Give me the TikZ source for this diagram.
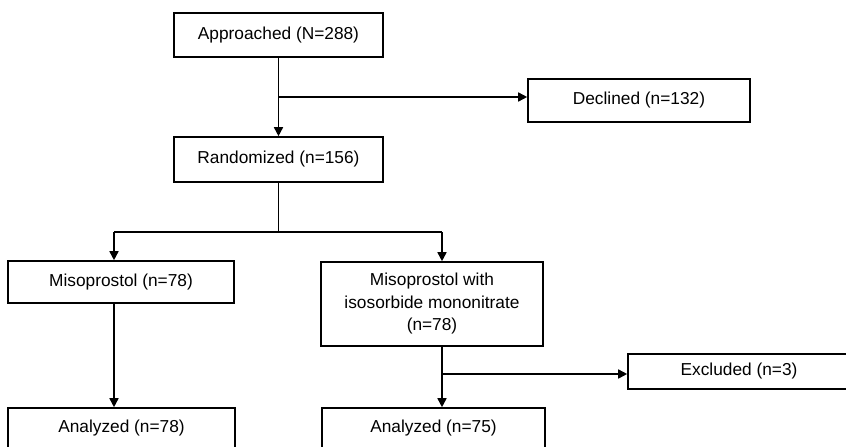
\documentclass[tikz,border=0pt]{standalone}
\usepackage{fontspec}
\setmainfont{Liberation Sans}
\usetikzlibrary{arrows.meta}

\begin{document}
\begin{tikzpicture}[x=1pt, y=-1pt, line width=1.6pt,
  box/.style={draw, line width=1.6pt, minimum width=#1, inner sep=0pt,
    align=center, font=\fontsize{17.3}{22.5}\selectfont},
  flow/.style={-{Triangle[length=9pt, width=9pt]}}]
\useasboundingbox (0,0) rectangle (846,447);
% enrolment
\node[box=209pt, minimum height=44pt] (appr) at (278.5,35) {Approached (N=288)};
\node[box=222pt, minimum height=43pt] (decl) at (639,100.5) {Declined (n=132)};
\node[box=209pt, minimum height=45pt] (rand) at (278.5,159.5) {Randomized (n=156)};
% allocation
\node[box=226pt, minimum height=42pt] (miso) at (121,282) {Misoprostol (n=78)};
\node[box=222pt, minimum height=84pt] (misoismn) at (432,304)
  {Misoprostol with\\ isosorbide mononitrate\\ (n=78)};
\node[box=222pt, minimum height=35pt] (excl) at (739,371.5) {Excluded (n=3)};
% analysis
\node[box=227pt, minimum height=40pt] (anmiso) at (121.5,428) {Analyzed (n=78)};
\node[box=223pt, minimum height=40pt] (anismn) at (433.5,428) {Analyzed (n=75)};
% junctions
\coordinate (jdecl) at (278.5,97);
\coordinate (jrand) at (278.5,232);
\coordinate (jmiso) at (114,232);
\coordinate (jismn) at (442,232);
\coordinate (jexcl) at (442,374);
% connectors
\draw[flow] (appr) -- (rand);
\draw[flow] (jdecl) -- (jdecl -| decl.west);
\draw (rand) -- (jrand);
\draw (jmiso) -- (jismn);
\draw[flow] (jmiso) -- (jmiso |- miso.north);
\draw[flow] (jismn) -- (jismn |- misoismn.north);
\draw[flow] (jmiso |- miso.south) -- (jmiso |- anmiso.north);
\draw[flow] (jismn |- misoismn.south) -- (jismn |- anismn.north);
\draw[flow] (jexcl) -- (jexcl -| excl.west);
\end{tikzpicture}
\end{document}
